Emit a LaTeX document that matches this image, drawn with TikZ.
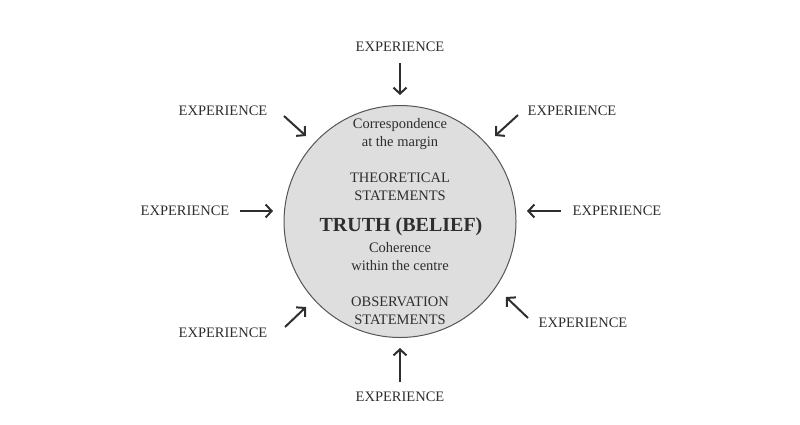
\documentclass[tikz,border=0pt]{standalone}
\usepackage{fontspec}
\setmainfont{Liberation Serif}
\usetikzlibrary{arrows.meta}
\definecolor{txt}{HTML}{2E2E2E}
\definecolor{disc}{HTML}{DEDEDE}
\definecolor{rim}{HTML}{555555}
\tikzset{
  exp/.style={font=\fontsize{14.5}{17}\selectfont, text=txt, inner sep=0pt},
  inner/.style={font=\fontsize{14.5}{18}\selectfont, text=txt, align=center, inner sep=0pt},
  arr/.style={draw=txt, line width=2pt, -{Straight Barb[length=6pt,width=13pt,line width=2pt]}},
}
\begin{document}
\begin{tikzpicture}[x=1pt,y=-1pt]
\useasboundingbox (0,0) rectangle (800,424);
\node[circle, draw=rim, fill=disc, line width=1pt, minimum size=232pt, inner sep=0pt] (c) at (400,221.5) {};
\node[inner] (corr) at (400,134) {Correspondence\\at the margin};
\node[inner] (theo) at (400,187) {THEORETICAL\\STATEMENTS};
\node[inner, font=\fontsize{20}{24}\selectfont\bfseries] (truth) at (401,227) {TRUTH (BELIEF)};
\node[inner] (coh) at (400,257) {Coherence\\within the centre};
\node[inner] (obs) at (400,311) {OBSERVATION\\STATEMENTS};
% labels
\node[exp] (eT) at (400,47) {EXPERIENCE};
\node[exp] (eTL) at (223,111) {EXPERIENCE};
\node[exp] (eTR) at (572,111) {EXPERIENCE};
\node[exp] (eL) at (185,211) {EXPERIENCE};
\node[exp] (eR) at (617,211) {EXPERIENCE};
\node[exp] (eBL) at (223,333) {EXPERIENCE};
\node[exp] (eBR) at (583,323) {EXPERIENCE};
\node[exp] (eB) at (400,397) {EXPERIENCE};
% arrow ends
\coordinate (tT) at (400,63);   \coordinate (hT) at (400,95);
\coordinate (tB) at (400,382);  \coordinate (hB) at (400,348);
\coordinate (tL) at (240,211);  \coordinate (hL) at (273,211);
\coordinate (tR) at (561,211);  \coordinate (hR) at (527,211);
\coordinate (tTL) at (284,116); \coordinate (hTL) at (306,136);
\coordinate (tTR) at (518,115); \coordinate (hTR) at (495,136);
\coordinate (tBL) at (285,327); \coordinate (hBL) at (306,307);
\coordinate (tBR) at (528,318); \coordinate (hBR) at (506,297);
\foreach \n in {T,B,L,R,TL,TR,BL,BR} \draw[arr] (t\n) -- (h\n);
\end{tikzpicture}
\end{document}
